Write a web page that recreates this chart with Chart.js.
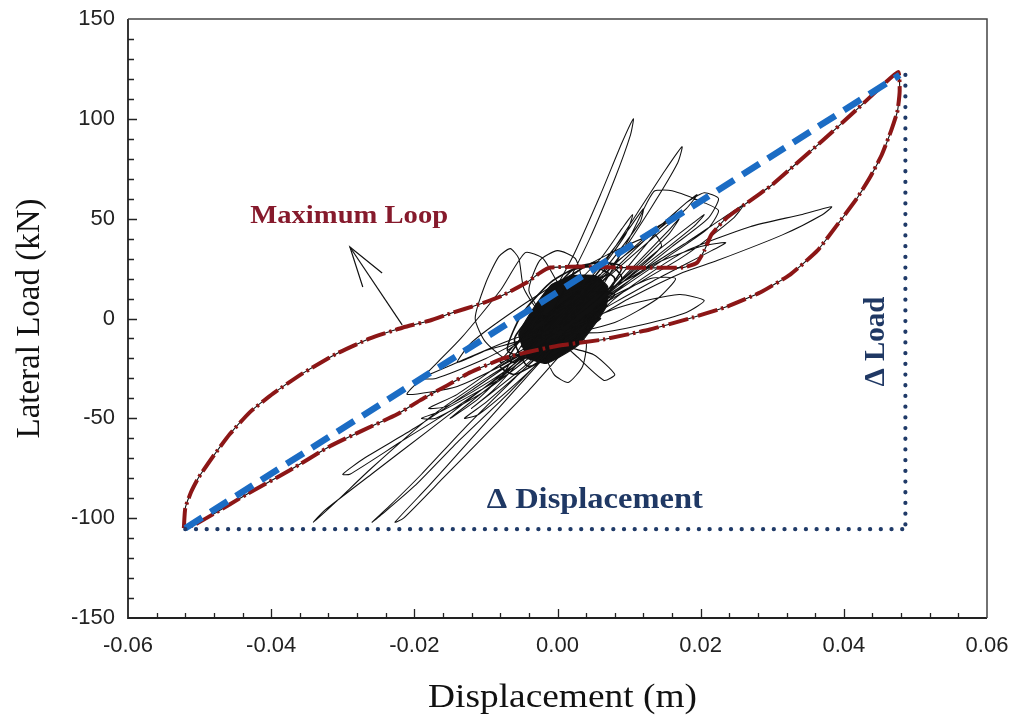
<!DOCTYPE html>
<html>
<head>
<meta charset="utf-8">
<script src="https://cdn.jsdelivr.net/npm/chart.js@4.4.1/dist/chart.umd.min.js"></script>
<style>
  html, body { margin: 0; padding: 0; background: #ffffff; }
  #wrap { width: 1014px; height: 721px; }
</style>
</head>
<body>
<div id="wrap"><canvas id="c" width="1014" height="721"></canvas></div>
<script>
// ---- axis setup ----
const xRange = [-0.06, 0.06];
const yRange = [-150, 150];
const xMajorStep = 0.02, xMinorStep = 0.004;
const yMajorStep = 50, yMinorStep = 10;

// ---- maximum hysteresis loop (displacement m, load kN) ----
const maxLoopUpper = [
  [-0.0522,-105],[-0.0520,-95],[-0.0512,-87],[-0.0502,-80],[-0.0481,-69],
  [-0.0458,-58],[-0.0430,-47],[-0.0397,-37.5],[-0.0356,-27.5],[-0.0308,-17.5],
  [-0.0262,-10],[-0.0216,-4.5],[-0.0178,-1],[-0.0150,2.5],[-0.0110,7],
  [-0.0080,11],[-0.0043,18],[-0.0024,23],[-0.0010,25.5],[0.0036,26],
  [0.0090,25.5],[0.0175,25.5],[0.0195,28],[0.0205,34],[0.0215,42],
  [0.0235,50],[0.0265,58],[0.0300,67],[0.0335,78],[0.0370,89],
  [0.0410,102],[0.0446,114],[0.0476,123.5]
];
const maxLoopLower = [
  [0.0478,114],[0.0475,104],[0.0466,94],[0.0453,82],[0.0437,71],
  [0.0418,60],[0.0391,47],[0.0363,34],[0.0325,22],[0.0283,13],
  [0.0237,6],[0.0189,0.5],[0.0129,-5.5],[0.0064,-10.5],[0.0003,-13.5],
  [-0.0038,-16.5],[-0.0076,-20],[-0.0122,-27],[-0.0154,-33.5],[-0.0192,-41],
  [-0.0224,-48],[-0.0272,-56],[-0.0318,-64],[-0.0374,-76],[-0.0434,-88],
  [-0.0481,-98],[-0.0508,-103.5],[-0.0522,-105]
];

// ---- recorded response cycles (displacement m, load kN) ----
const responseCycles = [
  [-0.008,-30],[-0.003,-2],[0.002,30],[0.006,62],[0.009,88],[0.0106,100],[0.0102,92],[0.0080,70],[0.0045,40],[0.000,8],[-0.005,-20],
  [0.000,-2],[0.006,25],[0.011,52],[0.015,74],[0.0174,86],[0.0168,78],[0.0130,55],[0.0080,28],[0.002,2],[-0.004,-22],
  [-0.012,-45],[-0.009,-36],[-0.002,-8],[0.005,22],[0.010,45],[0.012,55],[0.0115,48],[0.006,22],[-0.001,-8],[-0.008,-30],
  [-0.015,-50],[-0.011,-40],[-0.003,-12],[0.006,18],[0.013,42],[0.018,58],[0.0195,62],[0.018,55],[0.010,30],[0.002,5],[-0.006,-22],
  [-0.010,-12],[-0.0115,0],[-0.0100,18],[-0.0082,31],[-0.0066,35],[-0.0054,30],[-0.0047,15],[-0.002,2],[0.003,8],
  [0.010,20],[0.018,38],[0.023,50],[0.026,57],[0.0245,50],[0.018,32],[0.010,15],[0.002,-2],[-0.006,-18],
  [-0.014,-38],[-0.018,-45],[-0.0155,-44],[-0.008,-28],[0.000,-5],[0.006,15],
  [0.010,40],[0.0125,58],[0.0136,64],[0.016,64],[0.0205,58],[0.0225,54],[0.021,45],[0.015,30],[0.006,8],[-0.002,-12],
  [-0.010,-30],[-0.018,-50],[-0.026,-75],[-0.031,-92],[-0.0341,-102],[-0.0325,-96],[-0.026,-78],[-0.018,-56],[-0.010,-34],[-0.003,-14],
  [-0.012,-36],[-0.020,-55],[-0.027,-70],[-0.0300,-78],[-0.0290,-78],[-0.022,-62],[-0.014,-44],[-0.006,-24],[0.002,-2],
  [-0.006,-30],[-0.013,-55],[-0.019,-78],[-0.0235,-94],[-0.0259,-102],[-0.0245,-98],[-0.020,-84],[-0.014,-62],[-0.007,-38],[0.000,-12],
  [-0.007,-40],[-0.013,-64],[-0.018,-84],[-0.0227,-102],[-0.0215,-100],[-0.016,-80],[-0.010,-58],[-0.004,-36],[0.002,-12],[0.008,10],
  [0.0175,33],[0.0269,46],[0.034,52],[0.0383,56],[0.0370,52],[0.0315,42],[0.0223,29],[0.0175,23],[0.010,10],[0.002,-6],
  [0.008,18],[0.0145,46],[0.018,58],[0.0205,63],[0.0225,60],[0.021,50],[0.016,36],[0.009,16],[0.002,-4],
  [0.0040,-12],[0.0035,-24],[0.0015,-32],[-0.0005,-28],[-0.002,-15],[-0.002,0],
  [-0.004,14],[-0.0025,29],[0.000,34],[0.0025,30],[0.0035,16],[0.002,0],
  [-0.006,-20],[-0.014,-34],[-0.0210,-38],[-0.0190,-30],[-0.0135,-10],[-0.008,14],[-0.0045,33],[-0.002,30],[0.001,14],
  [0.006,30],[0.009,45],[0.0105,52],[0.0095,42],[0.005,20],[-0.003,-8],[-0.010,-16],[-0.014,-22],[-0.012,-12],[-0.006,4],
  [0.001,20],[0.007,32],[0.0135,42],[0.0145,36],[0.009,18],[0.001,-4],
  [-0.006,-10],[-0.014,-22],[-0.019,-30],[-0.017,-30],[-0.010,-20],[-0.003,-8],
  [0.006,-7],[0.012,-3],[0.018,3],[0.0205,9],[0.017,12],[0.009,6],[0.001,-6],
  [-0.007,-28],[-0.016,-46],[-0.019,-50],[-0.017,-50],[-0.010,-36],[-0.002,-14],[0.006,10],[0.014,34],[0.019,48],[0.0205,52],[0.019,46],[0.012,26],[0.004,4],
  [-0.003,-20],[-0.010,-42],[-0.013,-50],[-0.011,-48],[-0.005,-30],[0.002,-6],[0.009,20],[0.0155,44],[0.017,50],[0.0155,42],[0.008,16],[0.000,-8],
  [0.008,-2],[0.014,10],[0.0165,20],[0.013,20],[0.006,8],[-0.002,-10],
  [0.005,-18],[0.008,-28],[0.0065,-31],[0.003,-20],[0.000,-8],
  [0.008,14],[0.014,28],[0.020,36],[0.0235,38],[0.021,33],[0.014,20],[0.006,4],[-0.001,-10],
  [-0.008,-22],[-0.004,-6],[0.003,14],[0.011,36],[0.016,50],[0.014,46],[0.007,24],[0.000,2],[-0.007,-16]
];

// dense small cycles near the origin
const coreOutline = [
  [-0.0042,-20],[-0.0054,-8],[-0.0032,6],[-0.0008,17],[0.0022,21.5],
  [0.0052,21.5],[0.0070,16],[0.0068,6],[0.0050,-4],[0.0030,-13],
  [0.0004,-19],[-0.0016,-22.5],[-0.0042,-20]
];
const coreCycles = [
  [-0.006,-22],[-0.002,-6],[-0.005,-14],[0.001,6],[-0.003,-2],[0.004,16],[0.000,10],
  [0.007,22],[0.003,14],[0.008,12],[0.002,-4],[0.006,0],[-0.001,-18],[0.003,-10],
  [-0.004,-24],[-0.006,-10],[-0.002,8],[0.002,24],[0.005,26],[0.008,20],[0.006,6],
  [0.002,-8],[-0.003,-20],[-0.007,-16],[-0.005,2],[-0.001,18],[0.003,26],[0.007,28],
  [0.009,20],[0.006,10],[0.001,-6],[-0.004,-16],[-0.008,-24],[-0.006,-28],[-0.002,-20],
  [0.002,-2],[0.007,14],[0.009,26],[0.005,28],[0.000,16],[-0.004,-4],[-0.007,-20]
];

// ---- secant stiffness line and reference extents ----
const secantLine = [[-0.0520,-105],[0.0478,122]];
const deltaDispLine = [[-0.0520,-105.5],[0.0486,-105.5]];
const deltaLoadLine = [[0.0486,122],[0.0486,-105.5]];

// ---- annotation arrow ----
const arrowShaft = [[-0.0217,-3.2],[-0.0290,35.8]];
const arrowHead = [[-0.0272,15.8],[-0.0290,35.8],[-0.0245,22.8]];

// ---- text labels (anchored in data units) ----
const labelMaxLoop = { text: 'Maximum Loop', x: -0.0291, y: 51 };
const labelDeltaDisp = { text: '\u0394 Displacement', x: 0.0052, y: -91 };
const labelDeltaLoad = { text: '\u0394 Load', x: 0.0445, y: -11.5 };
const xTitle = 'Displacement (m)';
const yTitle = 'Lateral Load (kN)';

const toXY = arr => arr.map(p => ({ x: p[0], y: p[1] }));

const BLACK = '#111111';
const RED = '#8c1616';
const BLUE = '#1b6cc4';
const NAVY = '#1f3a68';

function lineDs(data, opts) {
  return Object.assign({
    data: toXY(data), showLine: true, pointRadius: 0, pointHoverRadius: 0,
    fill: false, tension: 0, borderWidth: 1, borderColor: BLACK
  }, opts);
}

const datasets = [
  lineDs(deltaDispLine, { borderColor: NAVY, borderWidth: 4.2, borderDash: [0.1, 10.6], borderCapStyle: 'round', order: 1 }),
  lineDs(deltaLoadLine, { borderColor: NAVY, borderWidth: 4.2, borderDash: [0.1, 10.6], borderCapStyle: 'round', order: 1 }),
  lineDs(secantLine, { borderColor: BLUE, borderWidth: 6.5, borderDash: [20, 10], order: 2 }),
  lineDs(maxLoopUpper.concat(maxLoopLower), { borderColor: RED, borderWidth: 4, borderDash: [20, 4, 2.5, 4], tension: 0.15, order: 3 }),
  lineDs(maxLoopUpper.concat(maxLoopLower), { borderColor: BLACK, borderWidth: 1.1, tension: 0.15, order: 4 }),
  lineDs(responseCycles, { borderColor: BLACK, borderWidth: 1.05, tension: 0.2, order: 5 }),
  lineDs(coreCycles, { borderColor: BLACK, borderWidth: 1.6, tension: 0.2, order: 5 }),
  lineDs(coreOutline, { borderColor: BLACK, borderWidth: 1.2, tension: 0.15, fill: 'shape', backgroundColor: BLACK, order: 6 }),
  lineDs(arrowShaft, { borderColor: BLACK, borderWidth: 1.2, order: 5 }),
  lineDs(arrowHead, { borderColor: BLACK, borderWidth: 1.2, order: 5 })
];

function stretchedText(ctx, text, x, y, font, color, sx, rot) {
  ctx.save();
  ctx.translate(x, y);
  if (rot) ctx.rotate(rot);
  ctx.scale(sx, 1);
  ctx.font = font;
  ctx.fillStyle = color;
  ctx.textAlign = 'center';
  ctx.textBaseline = 'middle';
  ctx.fillText(text, 0, 0);
  ctx.restore();
}

const framePlugin = {
  id: 'frame',
  afterDraw(chart) {
    const { ctx, chartArea: a, scales } = chart;
    const xs = scales.x, ys = scales.y;
    ctx.save();
    // frame
    ctx.strokeStyle = '#222';
    ctx.lineWidth = 1.8;
    ctx.beginPath();
    ctx.moveTo(a.left, a.top); ctx.lineTo(a.left, a.bottom); ctx.lineTo(a.right, a.bottom);
    ctx.stroke();
    ctx.strokeStyle = '#444';
    ctx.lineWidth = 1.5;
    ctx.beginPath();
    ctx.moveTo(a.left, a.top); ctx.lineTo(a.right, a.top); ctx.lineTo(a.right, a.bottom);
    ctx.stroke();
    // inward ticks
    ctx.strokeStyle = '#222';
    ctx.lineWidth = 1.3;
    ctx.beginPath();
    const nx = Math.round((xRange[1] - xRange[0]) / xMinorStep);
    for (let i = 1; i < nx; i++) {
      const v = xRange[0] + i * xMinorStep;
      const px = Math.round(xs.getPixelForValue(v)) + 0.5;
      const len = (i % 5 === 0) ? 9 : 5;
      ctx.moveTo(px, a.bottom); ctx.lineTo(px, a.bottom - len);
    }
    const ny = Math.round((yRange[1] - yRange[0]) / yMinorStep);
    for (let i = 1; i < ny; i++) {
      const v = yRange[0] + i * yMinorStep;
      const py = Math.round(ys.getPixelForValue(v)) + 0.5;
      const len = (i % 5 === 0) ? 9 : 6;
      ctx.moveTo(a.left, py); ctx.lineTo(a.left + len, py);
    }
    ctx.stroke();
    ctx.restore();

    // axis titles
    const serif = '"Liberation Serif", "Times New Roman", serif';
    stretchedText(ctx, xTitle, (a.left + a.right) / 2 + 5, 698, '34px ' + serif, '#111', 1.1, 0);
    stretchedText(ctx, yTitle, 30, (a.top + a.bottom) / 2, '33px ' + serif, '#111', 1.0, -Math.PI / 2);

    // annotations
    stretchedText(ctx, labelMaxLoop.text, xs.getPixelForValue(labelMaxLoop.x), ys.getPixelForValue(labelMaxLoop.y),
      'bold 26px ' + serif, '#861a2c', 1.1, 0);
    stretchedText(ctx, labelDeltaDisp.text, xs.getPixelForValue(labelDeltaDisp.x), ys.getPixelForValue(labelDeltaDisp.y),
      'bold 29px ' + serif, '#1f3864', 1.12, 0);
    stretchedText(ctx, labelDeltaLoad.text, xs.getPixelForValue(labelDeltaLoad.x), ys.getPixelForValue(labelDeltaLoad.y),
      'bold 29px ' + serif, '#1f3864', 1.0, -Math.PI / 2);
  }
};

// keep the plot frame exactly where the layout padding puts it
function dropEdgePadding(s) {
  s.paddingTop = 0; s.paddingBottom = 0; s.paddingLeft = 0; s.paddingRight = 0;
}

new Chart(document.getElementById('c'), {
  type: 'scatter',
  data: { datasets },
  options: {
    responsive: false,
    animation: false,
    devicePixelRatio: 1,
    layout: { padding: { left: 0, top: 19, right: 27, bottom: 0 } },
    plugins: { legend: { display: false }, tooltip: { enabled: false } },
    scales: {
      x: {
        type: 'linear', min: xRange[0], max: xRange[1],
        grid: { display: false, drawTicks: false },
        border: { display: false },
        ticks: {
          stepSize: xMajorStep, padding: 15, color: '#222',
          font: { family: '"Liberation Sans", Arial, sans-serif', size: 22 },
          callback: v => (Math.abs(v) < 1e-9 ? 0 : v).toFixed(2)
        },
        afterFit: s => { s.height = 103; dropEdgePadding(s); }
      },
      y: {
        type: 'linear', min: yRange[0], max: yRange[1],
        grid: { display: false, drawTicks: false },
        border: { display: false },
        ticks: {
          stepSize: yMajorStep, padding: 13, color: '#222',
          font: { family: '"Liberation Sans", Arial, sans-serif', size: 22 },
          callback: v => String(v)
        },
        afterFit: s => { s.width = 128; dropEdgePadding(s); }
      }
    }
  },
  plugins: [framePlugin]
});
</script>
</body>
</html>
